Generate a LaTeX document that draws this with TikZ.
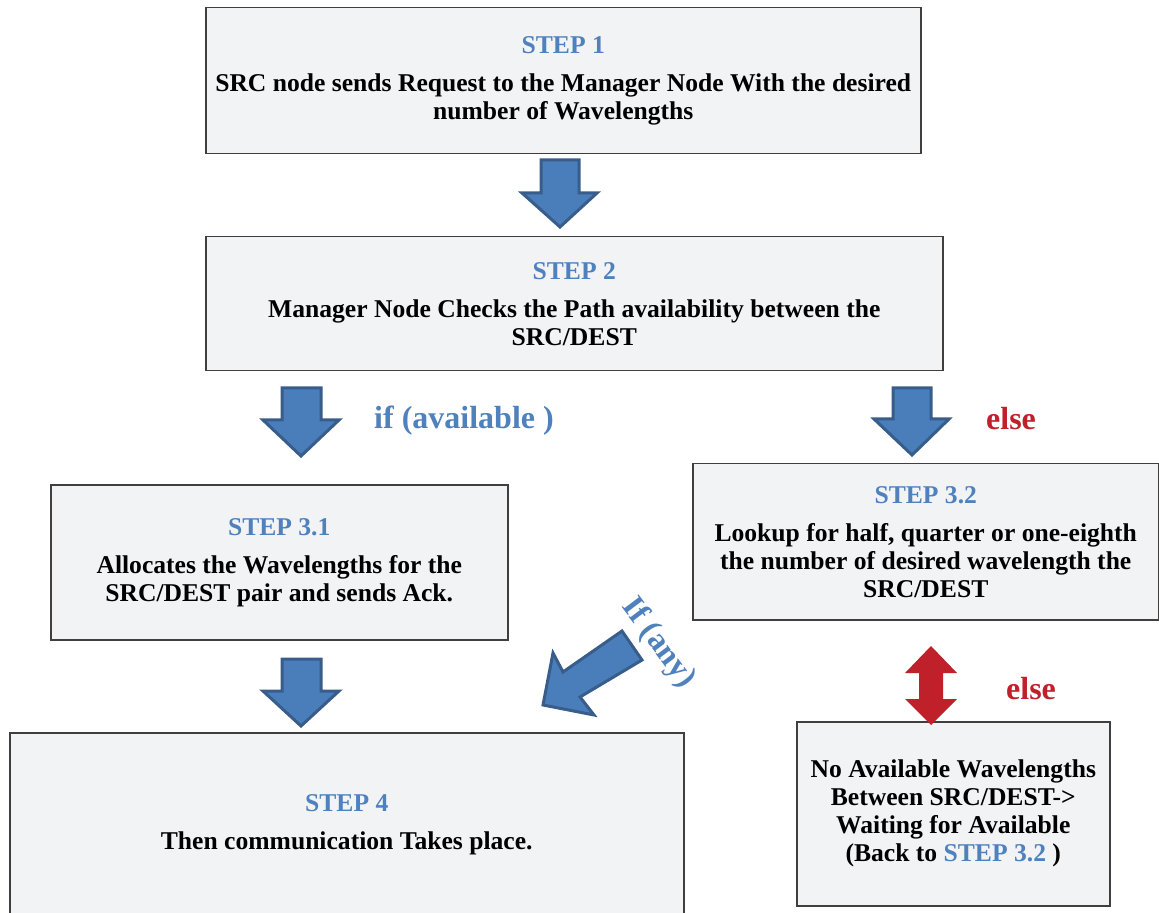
\documentclass[tikz,border=0pt]{standalone}
\usepackage{fontspec}
\setmainfont{Liberation Serif}
\definecolor{boxfill}{HTML}{F2F3F5}
\definecolor{boxline}{HTML}{3F3F3F}
\definecolor{stepblue}{HTML}{4F81BD}
\definecolor{arrowblue}{HTML}{4A7EBB}
\definecolor{arrowedge}{HTML}{385D8A}
\definecolor{alertred}{HTML}{C0202A}
\newcommand\steplabel[1]{\textcolor{stepblue}{#1}}
\begin{document}
\begin{tikzpicture}[x=0.5pt,y=-0.5pt,
  box/.style={draw=boxline, line width=0.75pt, fill=boxfill, align=center,
    font=\fontsize{12.8pt}{14pt}\selectfont\bfseries, inner sep=0pt, anchor=north west},
  sized/.style 2 args={minimum width=#1*0.5pt, minimum height=#2*0.5pt},
  blockarrow/.style={fill=arrowblue, draw=arrowedge, line width=1.5pt, line join=miter},
  redarrow/.style={fill=alertred, draw=none},
  cond/.style={font=\fontsize{16pt}{18pt}\selectfont\bfseries, inner sep=0pt}]
\useasboundingbox (0,0) rectangle (1159,913);
\clip (0,0) rectangle (1159,913);

% step boxes
\node[box, sized={715}{146}] (s1) at (205,7)
  {\steplabel{STEP 1}\\[5pt]SRC node sends Request to the Manager Node With the desired\\number of Wavelengths};
\node[box, sized={737}{134}] (s2) at (205,236)
  {\steplabel{STEP 2}\\[5pt]Manager Node Checks the Path availability between the\\SRC/DEST};
\node[box, sized={457}{155}] (s31) at (50,484)
  {\steplabel{STEP 3.1}\\[5pt]Allocates the Wavelengths for the\\SRC/DEST pair and sends Ack.};
\node[box, sized={466}{156}] (s32) at (692,463)
  {\steplabel{STEP 3.2}\\[5pt]Lookup for half, quarter or one-eighth\\the number of desired wavelength the\\SRC/DEST};
\node[box, sized={674}{184}] (s4) at (9,732)
  {\steplabel{STEP 4}\\[5pt]Then communication Takes place.};
\node[box, sized={313}{184}] (wait) at (796,721)
  {No Available Wavelengths\\Between SRC/DEST->\\Waiting for Available\\(Back to \steplabel{STEP 3.2} )};

% block arrows between the steps
\draw[blockarrow] (541,160) -- (579,160) -- (579,193) -- (597,193) -- (560,227)
  -- (522,193) -- (541,193) -- cycle;
\draw[blockarrow] (282,388) -- (321,388) -- (321,420) -- (339,420) -- (301,456)
  -- (263,420) -- (282,420) -- cycle;
\draw[blockarrow] (893,388) -- (931,388) -- (931,419) -- (949,419) -- (912,455)
  -- (874,419) -- (893,419) -- cycle;
\draw[blockarrow] (282,659) -- (321,659) -- (321,691) -- (339,691) -- (301,726)
  -- (263,691) -- (282,691) -- cycle;
\draw[blockarrow] (622,631) -- (642,660) -- (580,697) -- (594,715) -- (543,705)
  -- (553,653) -- (563,672) -- cycle;
\fill[redarrow] (931,646) -- (957,673) -- (943,673) -- (943,699) -- (957,699)
  -- (931,725) -- (905,699) -- (919,699) -- (919,673) -- (905,673) -- cycle;

% branch conditions
\node[cond, text=stepblue] (avail) at (464,421) {if (available )};
\node[cond, text=alertred] (else1) at (1011,419) {else};
\node[cond, text=alertred] (else2) at (1031,689) {else};
\node[cond, text=stepblue, rotate=-53] (anyc) at (658,643) {If (any)};
\end{tikzpicture}
\end{document}
